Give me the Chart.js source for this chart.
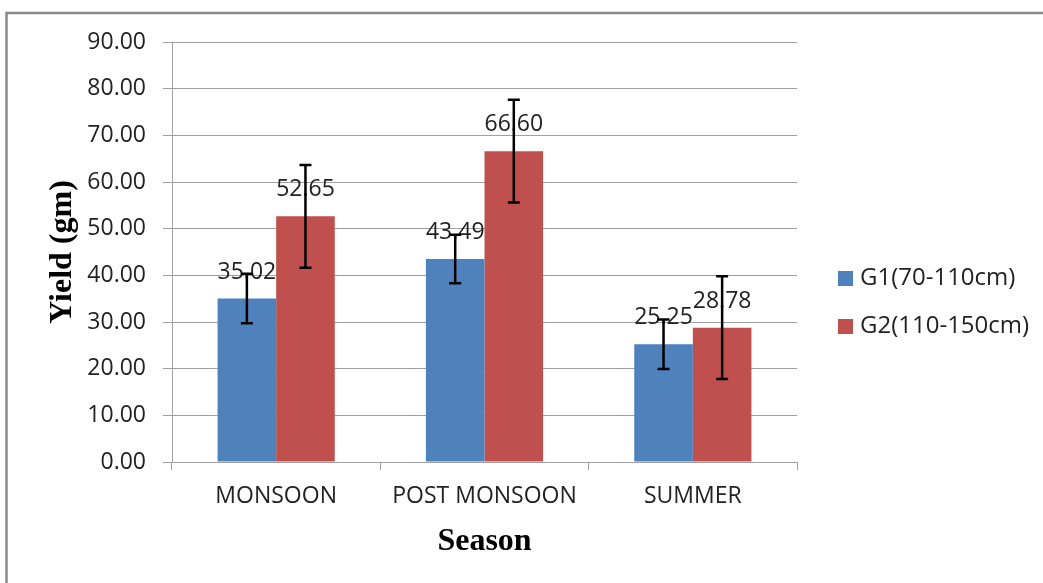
<!DOCTYPE html>
<html>
<head>
<meta charset="utf-8">
<title>Yield by season</title>
<script src="https://cdn.jsdelivr.net/npm/chart.js@4.4.1/dist/chart.umd.min.js"></script>
<style>
	html, body { margin: 0; padding: 0; background: #fff; }
	#wrap { width: 1043px; height: 583px; }
</style>
</head>
<body>
<div id="wrap"><canvas id="myChart" width="1043" height="583"></canvas></div>
<script>
const seasons = ['MONSOON', 'POST MONSOON', 'SUMMER'];
const seriesNames = ['G1(70-110cm)', 'G2(110-150cm)'];
const g1Yield = [35.02, 43.49, 25.25];
const g2Yield = [52.65, 66.60, 28.78];
const g1Error = [5.3, 5.2, 5.3];
const g2Error = [11.0, 11.0, 11.0];
const yTicks = [0, 10, 20, 30, 40, 50, 60, 70, 80, 90];

const seriesColors = ['#4F81BD', '#C0504D'];
const errors = [g1Error, g2Error];
const tickFont = { family: 'Open Sans', size: 23 };
const titleFont = { family: 'Liberation Serif', size: 32, weight: 'bold' };

// grey frame, value labels + error bars, legend on the right
const extras = {
	id: 'extras',
	beforeDraw(chart) {
		const { ctx, width, height } = chart;
		ctx.save();
		ctx.fillStyle = '#fff';
		ctx.fillRect(0, 0, width, height);
		ctx.strokeStyle = '#8a8a8a';
		ctx.lineWidth = 2.5;
		ctx.beginPath();
		ctx.moveTo(width, 13);
		ctx.lineTo(6.5, 13);
		ctx.lineTo(6.5, height);
		ctx.stroke();
		ctx.restore();
	},
	afterDatasetsDraw(chart) {
		const { ctx } = chart;
		const y = chart.scales.y;
		ctx.save();
		ctx.font = '23px "Open Sans"';
		ctx.fillStyle = '#222';
		ctx.textAlign = 'center';
		ctx.textBaseline = 'alphabetic';
		chart.data.datasets.forEach((ds, i) => {
			chart.getDatasetMeta(i).data.forEach((bar, j) => {
				ctx.fillText(ds.data[j].toFixed(2), bar.x, bar.y - 20);
			});
		});
		ctx.strokeStyle = '#000';
		ctx.lineWidth = 2.5;
		chart.data.datasets.forEach((ds, i) => {
			chart.getDatasetMeta(i).data.forEach((bar, j) => {
				const v = ds.data[j];
				const e = errors[i][j];
				const top = y.getPixelForValue(v + e);
				const bot = y.getPixelForValue(v - e);
				ctx.beginPath();
				ctx.moveTo(bar.x, top);
				ctx.lineTo(bar.x, bot);
				ctx.moveTo(bar.x - 6, top);
				ctx.lineTo(bar.x + 6, top);
				ctx.moveTo(bar.x - 6, bot);
				ctx.lineTo(bar.x + 6, bot);
				ctx.stroke();
			});
		});
		ctx.restore();
	},
	afterDraw(chart) {
		const { ctx } = chart;
		ctx.save();
		ctx.font = '24px "Open Sans"';
		ctx.textAlign = 'left';
		ctx.textBaseline = 'middle';
		chart.data.datasets.forEach((ds, i) => {
			const cy = 278 + i * 48;
			ctx.fillStyle = ds.backgroundColor;
			ctx.fillRect(838, cy - 7, 15, 15);
			ctx.fillStyle = '#222';
			ctx.fillText(ds.label, 860, cy);
		});
		ctx.restore();
	},
};

new Chart(document.getElementById('myChart'), {
	type: 'bar',
	data: {
		labels: seasons,
		datasets: [
			{ label: seriesNames[0], data: g1Yield, backgroundColor: seriesColors[0] },
			{ label: seriesNames[1], data: g2Yield, backgroundColor: seriesColors[1] },
		],
	},
	options: {
		responsive: false,
		animation: false,
		devicePixelRatio: 1,
		layout: { padding: { top: 42, right: 246, bottom: 0, left: 0 } },
		datasets: { bar: { categoryPercentage: 0.5625, barPercentage: 1.0 } },
		plugins: { legend: { display: false }, tooltip: { enabled: false } },
		scales: {
			x: {
				grid: { offset: true, drawOnChartArea: false, drawTicks: true, tickLength: 8, color: '#a0a0a0' },
				border: { color: '#a0a0a0' },
				ticks: { font: tickFont, color: '#222', padding: 13, maxRotation: 0 },
				title: { display: true, text: 'Season', font: titleFont, color: '#000', padding: { top: 0, bottom: 22 } },
				afterFit(scale) { scale.height = 121; },
			},
			y: {
				min: 0,
				max: 90,
				afterBuildTicks(scale) { scale.ticks = yTicks.map(v => ({ value: v })); },
				ticks: { font: tickFont, color: '#222', padding: 17, callback: v => Number(v).toFixed(2) },
				grid: { color: '#a0a0a0', tickLength: 9 },
				border: { color: '#a0a0a0' },
				title: { display: true, text: 'Yield (gm)', font: titleFont, color: '#000', padding: { top: 44, bottom: 0 } },
				afterFit(scale) { scale.width = 172; },
			},
		},
	},
	plugins: [extras],
});
</script>
</body>
</html>
